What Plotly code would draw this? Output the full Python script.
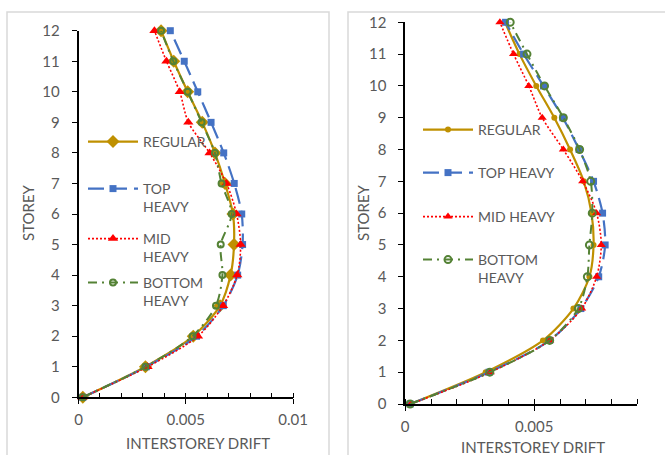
import plotly.graph_objects as go

W, H = 665, 455

storeys = [0, 1, 2, 3, 4, 5, 6, 7, 8, 9, 10, 11, 12]
series_names = ["REGULAR", "TOP HEAVY", "MID HEAVY", "BOTTOM HEAVY"]

# Left panel (x in units of drift)
left_regular = [0.00020, 0.00312, 0.00535, 0.00660, 0.00709, 0.00725, 0.00720, 0.00683, 0.00636, 0.00577, 0.00509, 0.00444, 0.00385]
left_top     = [0.00020, 0.00316, 0.00550, 0.00675, 0.00742, 0.00765, 0.00761, 0.00726, 0.00677, 0.00618, 0.00556, 0.00493, 0.00428]
left_mid     = [0.00018, 0.00322, 0.00557, 0.00674, 0.00740, 0.00756, 0.00737, 0.00690, 0.00611, 0.00512, 0.00472, 0.00410, 0.00354]
left_bottom  = [0.00020, 0.00312, 0.00532, 0.00641, 0.00671, 0.00663, 0.00714, 0.00667, 0.00636, 0.00574, 0.00509, 0.00442, 0.00385]

# Right panel
right_regular = [0.00019, 0.00312, 0.00534, 0.00652, 0.00714, 0.00730, 0.00722, 0.00692, 0.00639, 0.00578, 0.00508, 0.00443, 0.00387]
right_top     = [0.00019, 0.00325, 0.00560, 0.00681, 0.00750, 0.00775, 0.00765, 0.00730, 0.00674, 0.00611, 0.00536, 0.00459, 0.00389]
right_mid     = [0.00022, 0.00330, 0.00560, 0.00684, 0.00742, 0.00760, 0.00742, 0.00688, 0.00613, 0.00531, 0.00479, 0.00420, 0.00367]
right_bottom  = [0.00019, 0.00328, 0.00560, 0.00671, 0.00706, 0.00714, 0.00725, 0.00719, 0.00676, 0.00613, 0.00540, 0.00472, 0.00407]

left_xrange = [0, 0.01]
right_xrange = [0, 0.009]
yrange = [0, 12]

GOLD = "#BF9000"
BLUE = "#4472C4"
RED = "#FF0000"
GREEN = "#548235"
TXT = "#595959"
FONT = "Lato"

def px(x):
    return x / W

def py(y):
    return 1 - y / H

# plot-area geometry (pixels)
L_x0, L_x1, L_y0, L_y1 = 78.5, 293.0, 397.3, 30.7
R_x0, R_x1, R_y0, R_y1 = 405.2, 637.4, 404.0, 22.3

fig = go.Figure()

styles = [
    dict(color=GOLD, dash="solid", width=2.2, symbol="diamond", msize=(10, 6), mline=0),
    dict(color=BLUE, dash="16px,7px", width=2.2, symbol="square", msize=(7, 7), mline=0),
    dict(color=RED, dash="2px,2px", width=1.6, symbol="triangle-up", msize=(9, 8), mline=0),
    dict(color=GREEN, dash="9px,5px,2px,5px", width=2.0, symbol="circle-open", msize=(6, 7), mline=2),
]
labels_left = ["REGULAR", "TOP<br>HEAVY", "MID<br>HEAVY", "BOTTOM<br>HEAVY"]
labels_right = ["REGULAR", "TOP HEAVY", "MID HEAVY", "BOTTOM<br>HEAVY"]

left_data = [left_regular, left_top, left_mid, left_bottom]
right_data = [right_regular, right_top, right_mid, right_bottom]

for i, (vals, st) in enumerate(zip(left_data, styles)):
    fig.add_trace(go.Scatter(
        x=vals, y=storeys, xaxis="x", yaxis="y", mode="lines+markers",
        name=labels_left[i], legend="legend" if i == 0 else f"legend{i+1}",
        line=dict(color=st["color"], dash=st["dash"], width=st["width"], shape="spline", smoothing=0.8),
        marker=dict(symbol=st["symbol"], size=st["msize"][0], color=st["color"],
                    line=dict(color=st["color"], width=st["mline"])),
        cliponaxis=False,
    ))

right_syms = ["circle", "square", "triangle-up", "circle-open"]
for i, (vals, st) in enumerate(zip(right_data, styles)):
    fig.add_trace(go.Scatter(
        x=vals, y=storeys, xaxis="x2", yaxis="y2", mode="lines+markers",
        name=labels_right[i], legend=f"legend{i+5}",
        line=dict(color=st["color"], dash=st["dash"], width=st["width"], shape="spline", smoothing=0.8),
        marker=dict(symbol=right_syms[i], size=st["msize"][1], color=st["color"],
                    line=dict(color=st["color"], width=st["mline"])),
        cliponaxis=False,
    ))

axis_common = dict(showline=True, linecolor="black", linewidth=1.6, showgrid=False, zeroline=False,
                   automargin=False, tickcolor="black", tickwidth=1.4,
                   tickfont=dict(family=FONT, size=15, color=TXT))

def xaxis(dom, rng, anchor):
    return dict(axis_common, domain=dom, range=rng, anchor=anchor, tickmode="linear", tick0=0, dtick=0.005,
                tickformat="~g", ticks="outside", ticklen=5, ticklabelstandoff=3,
                minor=dict(dtick=0.001, tick0=0, ticks="inside", ticklen=5, tickcolor="black", tickwidth=1.4, showgrid=False))

def yaxis(dom, anchor):
    return dict(axis_common, domain=dom, range=yrange, anchor=anchor, tickmode="linear", tick0=0, dtick=1,
                ticks="outside", ticklen=5, ticklabelstandoff=9)

def overlay(dom, rng, anchor, over, dtick):
    return dict(domain=dom, range=rng, anchor=anchor, overlaying=over, tickmode="linear", tick0=0, dtick=dtick,
                ticks="inside", ticklen=5, tickcolor="black", tickwidth=1.4, showticklabels=False,
                showline=False, showgrid=False, zeroline=False, automargin=False)

Lxd = [px(L_x0), px(L_x1)]
Lyd = [py(L_y0), py(L_y1)]
Rxd = [px(R_x0), px(R_x1)]
Ryd = [py(R_y0), py(R_y1)]

layout = dict(
    width=W, height=H, margin=dict(l=0, r=0, t=0, b=0, pad=0, autoexpand=False),
    paper_bgcolor="white", plot_bgcolor="rgba(0,0,0,0)",
    font=dict(family=FONT, color=TXT),
    xaxis=xaxis(Lxd, left_xrange, "y"),
    yaxis=yaxis(Lyd, "x"),
    xaxis2=xaxis(Rxd, right_xrange, "y2"),
    yaxis2=yaxis(Ryd, "x2"),
    xaxis3=overlay(Lxd, left_xrange, "y", "x", 0.005),
    yaxis3=overlay(Lyd, yrange, "x", "y", 1),
    xaxis4=overlay(Rxd, right_xrange, "y2", "x2", 0.005),
    yaxis4=overlay(Ryd, yrange, "x2", "y2", 1),
    showlegend=True,
)

# legends: one per entry
leg_pos_left = [143, 190, 240, 284]
leg_pos_right = [131, 174, 218, 261]
for i in range(8):
    key = "legend" if i == 0 else f"legend{i+1}"
    if i < 4:
        xl, yl = 83, leg_pos_left[i]
    else:
        xl, yl = 418, leg_pos_right[i - 4]
    layout[key] = dict(x=px(xl), y=py(yl - 17), xanchor="left", yanchor="top", xref="paper", yref="paper",
                       bgcolor="rgba(0,0,0,0)", borderwidth=0, itemwidth=50, valign="top",
                       font=dict(family=FONT, size=14, color=TXT))

fig.update_layout(**layout)

# panel borders
fig.add_shape(type="rect", xref="paper", yref="paper", x0=px(7), x1=px(329), y0=py(470), y1=py(12),
              line=dict(color="#D9D9D9", width=1.5), fillcolor="rgba(0,0,0,0)", layer="below")
fig.add_shape(type="rect", xref="paper", yref="paper", x0=px(348), x1=px(680), y0=py(470), y1=py(12),
              line=dict(color="#D9D9D9", width=1.5), fillcolor="rgba(0,0,0,0)", layer="below")

# axis titles
ann_font = dict(family=FONT, size=15, color=TXT)
fig.add_annotation(text="INTERSTOREY DRIFT", x=px(198), y=py(443), xref="paper", yref="paper",
                   xanchor="center", yanchor="middle", showarrow=False, font=ann_font)
fig.add_annotation(text="INTERSTOREY DRIFT", x=px(533), y=py(447), xref="paper", yref="paper",
                   xanchor="center", yanchor="middle", showarrow=False, font=ann_font)
fig.add_annotation(text="STOREY", x=px(28), y=py(213), xref="paper", yref="paper", textangle=-90,
                   xanchor="center", yanchor="middle", showarrow=False, font=ann_font)
fig.add_annotation(text="STOREY", x=px(363), y=py(213), xref="paper", yref="paper", textangle=-90,
                   xanchor="center", yanchor="middle", showarrow=False, font=ann_font)

fig.write_html("out.html", config={"displayModeBar": False},
               post_script="document.body.style.margin='0';document.body.style.padding='0';document.body.style.overflow='hidden';")
